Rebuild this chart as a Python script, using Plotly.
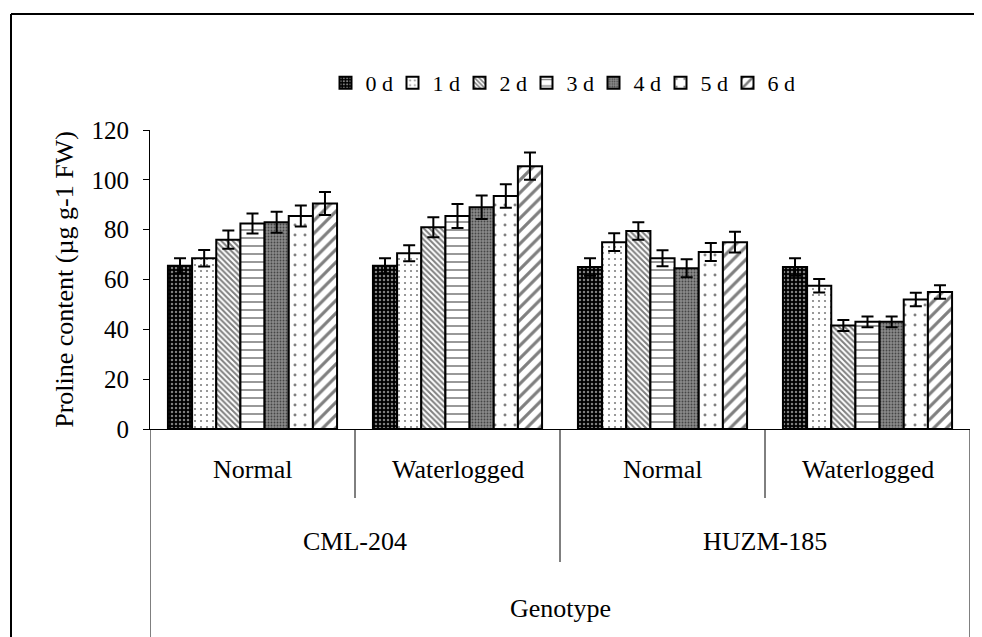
import plotly.graph_objects as go

genotypes = ["CML-204", "CML-204", "HUZM-185", "HUZM-185"]
conditions = ["Normal", "Waterlogged", "Normal", "Waterlogged"]
days = ["0 d", "1 d", "2 d", "3 d", "4 d", "5 d", "6 d"]

d0 = [65.5, 65.5, 65, 65]
d1 = [68.5, 70.5, 75, 57.5]
d2 = [76, 81, 79.5, 41.5]
d3 = [82.5, 85.5, 68.5, 43]
d4 = [83, 89, 64.5, 43]
d5 = [85.5, 93.5, 71, 52]
d6 = [90.5, 105.5, 75, 55]

e0 = [3, 3, 3.5, 3.5]
e1 = [3.3, 3.2, 3.6, 2.7]
e2 = [3.7, 4, 3.5, 2.2]
e3 = [4, 4.8, 3.2, 2.2]
e4 = [4.2, 4.7, 3.6, 2.2]
e5 = [4.2, 4.7, 3.6, 2.7]
e6 = [4.6, 5.5, 4.2, 2.7]

values = [d0, d1, d2, d3, d4, d5, d6]
errors = [e0, e1, e2, e3, e4, e5, e6]

patterns = [
    dict(shape=".", bgcolor="black", fgcolor="white", size=4, solidity=0.3),
    dict(shape=".", bgcolor="white", fgcolor="black", size=6, solidity=0.1),
    dict(shape="\\", bgcolor="white", fgcolor="black", size=4, solidity=0.5),
    dict(shape="-", bgcolor="white", fgcolor="black", size=8, solidity=0.2),
    dict(shape=".", bgcolor="#8a8a8a", fgcolor="black", size=3, solidity=0.3),
    dict(shape=".", bgcolor="white", fgcolor="black", size=10, solidity=0.07),
    dict(shape="/", bgcolor="white", fgcolor="black", size=9, solidity=0.35),
]

cats = [g + " " + c for g, c in zip(genotypes, conditions)]
FONT = "Liberation Serif"

fig = go.Figure()
for name, vals, errs, pat in zip(days, values, errors, patterns):
    fig.add_trace(go.Bar(
        x=cats, y=vals, name=name,
        marker=dict(color="white", pattern=pat, line=dict(color="black", width=2)),
        error_y=dict(type="data", array=errs, color="black", thickness=2, width=6),
    ))

# page pixel -> paper coordinate helpers (plot area spans x 150..970, y 130..429 on the page)
def ypix(p):
    return (429 - p) / 299.0

def xpix(p):
    return (p - 150) / 820.0

shapes = []
for b in [0.5, 2.5]:
    shapes.append(dict(type="line", xref="x", yref="paper", x0=b, x1=b,
                       y0=0, y1=ypix(498), line=dict(color="black", width=1)))
shapes.append(dict(type="line", xref="x", yref="paper", x0=1.5, x1=1.5,
                   y0=0, y1=ypix(562), line=dict(color="black", width=1)))
for b in [-0.5, 3.5]:
    shapes.append(dict(type="line", xref="x", yref="paper", x0=b, x1=b,
                       y0=0, y1=ypix(660), line=dict(color="black", width=1)))
shapes.append(dict(type="line", xref="paper", yref="paper", x0=xpix(11), x1=xpix(11),
                   y0=ypix(14), y1=ypix(660), line=dict(color="black", width=2)))
shapes.append(dict(type="line", xref="paper", yref="paper", x0=xpix(11), x1=xpix(1000),
                   y0=ypix(14), y1=ypix(14), line=dict(color="black", width=2)))

lab_font = dict(family=FONT, size=26, color="black")
annotations = []
for i, c in enumerate(conditions):
    annotations.append(dict(x=i, y=ypix(469), xref="x", yref="paper", text=c,
                            xanchor="center", yanchor="middle",
                            showarrow=False, font=lab_font))
seen = []
for g in genotypes:
    if g not in seen:
        seen.append(g)
        idx = [j for j, gg in enumerate(genotypes) if gg == g]
        annotations.append(dict(x=sum(idx) / len(idx), y=ypix(541), xref="x", yref="paper",
                                text=g, xanchor="center", yanchor="middle",
                                showarrow=False, font=lab_font))
annotations.append(dict(x=1.5, y=ypix(608), xref="x", yref="paper", text="Genotype",
                        xanchor="center", yanchor="middle",
                        showarrow=False, font=lab_font))

# the page body has an 8px margin, so the figure is 8px smaller than the window
fig.update_layout(
    width=974, height=629,
    margin=dict(l=142, r=12, t=122, b=208),
    paper_bgcolor="white", plot_bgcolor="white",
    barmode="group", bargap=0.175, bargroupgap=0,
    font=dict(family=FONT, size=22, color="black"),
    showlegend=True,
    legend=dict(orientation="h", x=0.5, xanchor="center", y=ypix(83), yanchor="middle",
                font=dict(family=FONT, size=22, color="black"),
                entrywidth=22, entrywidthmode="pixels", itemwidth=30,
                traceorder="normal"),
    xaxis=dict(type="category", range=[-0.5, 3.5], showticklabels=False, ticks="",
               showline=True, linecolor="black", linewidth=1, showgrid=False,
               zeroline=False),
    yaxis=dict(range=[0, 120], dtick=20, ticks="outside", ticklen=6, tickwidth=1,
               tickcolor="black", showline=True, linecolor="black", linewidth=1,
               showgrid=False, zeroline=False, ticklabelstandoff=9,
               tickfont=dict(family=FONT, size=25, color="black"),
               title=dict(text="Proline content (µg g-1 FW)", standoff=10,
                          font=dict(family=FONT, size=26, color="black"))),
    shapes=shapes,
    annotations=annotations,
)

fig.write_html("out.html")
